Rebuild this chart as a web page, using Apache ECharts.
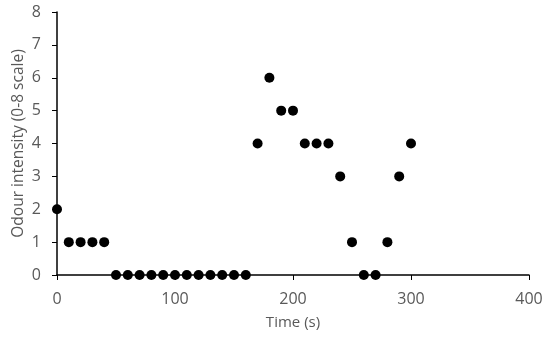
<!DOCTYPE html>
<html>
<head>
<meta charset="utf-8">
<script src="https://cdn.jsdelivr.net/npm/echarts@6/dist/echarts.min.js"></script>
<style>
  html, body { margin: 0; padding: 0; background: #fff; }
  #chart { width: 550px; height: 339px; }
</style>
</head>
<body>
<div id="chart"></div>
<script>
const times = [0, 10, 20, 30, 40, 50, 60, 70, 80, 90, 100, 110, 120, 130, 140, 150, 160,
  170, 180, 190, 200, 210, 220, 230, 240, 250, 260, 270, 280, 290, 300];
const intensity = [2, 1, 1, 1, 1, 0, 0, 0, 0, 0, 0, 0, 0, 0, 0, 0, 0,
  4, 6, 5, 5, 4, 4, 4, 3, 1, 0, 0, 1, 3, 4];

const labelColor = '#595959';
const font = 'Open Sans, Liberation Sans, sans-serif';

const chart = echarts.init(document.getElementById('chart'));

chart.setOption({
  animation: false,
  grid: { left: 57, right: 21, top: 12, bottom: 64, outerBoundsMode: 'none', containLabel: false },
  xAxis: {
    type: 'value',
    min: 0,
    max: 400,
    interval: 100,
    name: 'Time (s)',
    nameLocation: 'middle',
    nameGap: 40,
    nameMoveOverlap: false,
    nameTextStyle: { color: labelColor, fontSize: 15, fontFamily: font },
    axisLine: { show: true, onZero: false, lineStyle: { color: '#000', width: 1.5 } },
    axisTick: { show: true, inside: false, length: 5, lineStyle: { color: '#000' } },
    axisLabel: { color: labelColor, fontSize: 16, fontFamily: font, margin: 16 },
    splitLine: { show: false }
  },
  yAxis: {
    type: 'value',
    min: 0,
    max: 8,
    interval: 1,
    name: 'Odour intensity (0-8 scale)',
    nameLocation: 'middle',
    nameGap: 30,
    nameMoveOverlap: false,
    nameTextStyle: { color: labelColor, fontSize: 15.5, fontFamily: font },
    axisLine: { show: true, lineStyle: { color: '#000', width: 1.5 } },
    axisTick: { show: true, inside: false, length: 5, lineStyle: { color: '#000' } },
    axisLabel: { color: labelColor, fontSize: 16, fontFamily: font, margin: 16 },
    splitLine: { show: false }
  },
  series: [
    {
      type: 'scatter',
      symbol: 'circle',
      symbolSize: 10,
      itemStyle: { color: '#000', opacity: 1 },
      data: times.map((t, i) => [t, intensity[i]])
    }
  ]
});
</script>
</body>
</html>
